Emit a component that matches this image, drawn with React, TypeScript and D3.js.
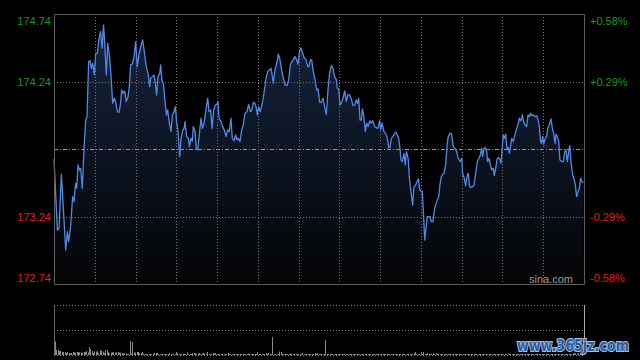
import React from "react";
import * as d3 from "d3";

const minutes = [
  0, 2.5, 3.7, 5.4, 6.6, 8.6, 9.8, 10.8, 12.3, 13.7, 14.7, 15.9, 16.7, 17.7, 18.6, 19.6, 20.8, 22.1, 23.3, 24.3,
  25.5, 26.5, 27.5, 28.5, 29.7, 30.7, 31.9, 33.1, 34.3, 35.3, 36.5, 37.5, 38.5, 39.5, 40.7, 41.9, 43.2, 44.4, 45.4, 46.6,
  47.8, 48.8, 49.8, 50.8, 52.0, 53.2, 54.5, 55.4, 56.4, 57.6, 58.9, 60.1, 61.3, 62.5, 63.8, 65.2, 66.5, 67.7, 69.4, 70.4,
  71.1, 72.4, 73.6, 74.6, 75.5, 76.5, 77.8, 78.5, 79.5, 80.5, 81.7, 82.7, 83.6, 84.9, 86.1, 87.1, 88.3, 89.3, 90.3, 91.2,
  92.5, 93.5, 94.7, 95.7, 96.4,
  97.6, 98.9, 99.6, 100.8, 101.8, 102.5, 103.8, 104.7, 105.7, 106.9, 108.2, 109.2, 110.4, 111.6, 113.1, 114.1, 115.3, 116.3, 117.5, 118.7,
  119.9, 120.7, 121.4, 122.9, 124.1, 125.3, 126.6, 127.8, 129.0, 130.2, 131.2, 132.5, 133.7, 134.7, 135.6, 136.9, 138.1, 139.3, 140.6, 142.0,
  143.2, 144.5, 145.5, 146.7, 147.9, 148.9, 149.6, 150.6, 151.8, 153.3, 154.5, 156.0, 157.2, 158.5, 159.7, 160.7, 161.4, 162.6, 163.9, 165.1,
  166.3, 167.5, 168.8, 170.0, 171.5, 172.7, 173.9, 174.9, 176.1, 177.3, 178.6, 179.5, 180.8, 181.8, 183.0, 184.2, 185.4, 186.7, 187.6, 188.6,
  189.6, 190.8, 192.1, 193.3, 194.3,
  195.5, 196.7, 198.0, 199.2, 200.4, 201.6, 202.8, 204.1, 205.3, 206.5, 207.8, 208.5, 209.5, 210.4, 211.4, 212.7, 213.9, 215.1, 216.3, 217.6,
  218.8, 220.0, 221.2, 222.5, 223.2, 224.2, 225.2, 226.2, 226.9, 227.9, 229.1, 230.1, 231.1, 232.3, 233.5, 234.7, 236.0, 237.2, 238.4, 239.6,
  240.4, 241.4, 242.8, 244.1, 245.3, 246.3, 247.2, 248.2, 249.4, 250.7, 251.7, 252.6, 253.6, 254.6, 255.3, 256.3, 257.5, 258.5, 259.3, 260.0,
  260.7, 261.5, 262.7, 263.9, 264.9, 265.9, 267.1, 268.1, 269.1, 270.3, 271.0, 271.8, 272.8, 273.7, 274.7, 275.7, 276.7, 277.7, 278.9, 279.9,
  280.8, 282.1, 283.1, 284.0, 285.0, 286.0, 287.0, 288.2, 289.2, 289.9, 291.1, 292.4,
  293.9, 295.1, 296.3, 297.5, 298.8, 300.0, 300.7, 301.9, 302.9, 304.2, 304.9, 305.6, 306.6, 308.1, 309.1, 310.3, 311.5, 312.7, 313.7, 314.7,
  315.4, 316.4, 317.6, 318.4, 319.1, 320.1, 321.1, 322.1, 323.3, 324.0, 325.0, 326.2, 327.2, 328.2, 328.9, 329.9, 330.6, 331.4, 332.4, 333.3,
  334.3, 335.1, 336.0, 336.8, 338.0, 339.2, 340.5, 341.7, 342.4, 343.6, 344.6, 345.4, 346.6, 347.8, 348.8, 349.8, 350.8, 351.7, 352.7, 353.9,
  355.2, 356.4, 357.1, 357.9, 358.6, 359.6, 360.3, 361.3, 362.5, 363.3, 364.5, 365.7, 366.7, 367.7, 368.7, 369.4, 370.4, 371.4, 372.3, 373.6,
  374.8, 375.8, 376.8, 377.7, 378.7, 379.5, 380.4, 381.7, 382.6, 383.6, 384.6, 385.6, 386.6, 387.5, 388.5, 389.5,
];

const prices = [
  173.666, 173.140, 173.153, 173.553, 173.350, 172.992, 173.128, 173.054, 173.177, 173.387, 173.350, 173.486, 173.449, 173.622, 173.585, 173.597, 173.449, 173.745, 173.955, 173.980,
  174.387, 174.395, 174.338, 174.375, 174.289, 174.449, 174.449, 174.560, 174.610, 174.486, 174.659, 174.486, 174.289, 174.523, 174.437, 174.289, 174.079, 174.116, 174.091, 174.017,
  174.012, 174.066, 174.177, 174.153, 174.170, 174.091, 174.128, 174.202, 174.363, 174.368, 174.424, 174.535, 174.350, 174.437, 174.498, 174.548, 174.461, 174.363, 174.289, 174.202,
  174.264, 174.276, 174.289, 174.227, 174.140, 174.276, 174.301, 174.363, 174.239, 174.227, 174.091, 173.992, 174.029, 173.931, 173.869, 173.992, 174.017, 174.054, 173.931, 173.881,
  173.684, 173.819, 173.881, 173.893, 173.943,
  173.832, 173.819, 173.758, 173.819, 173.800, 173.906, 173.869, 173.745, 173.733, 173.844, 173.968, 173.893, 173.931, 174.017, 174.116, 174.017, 174.029, 173.893, 174.029, 174.066,
  174.071, 174.091, 173.968, 173.943, 173.906, 173.881, 173.832, 173.881, 173.869, 173.968, 173.819, 173.800, 173.844, 173.807, 173.819, 173.795, 173.881, 173.918, 174.005, 174.017,
  174.071, 174.017, 174.029, 174.086, 174.079, 174.042, 173.992, 174.054, 174.017, 174.079, 174.153, 174.264, 174.313, 174.326, 174.338, 174.276, 174.227, 174.326, 174.375, 174.442,
  174.400, 174.326, 174.264, 174.214, 174.210, 174.252, 174.363, 174.387, 174.400, 174.424, 174.400, 174.368, 174.474, 174.486, 174.449, 174.412, 174.405, 174.350, 174.350, 174.400,
  174.400, 174.313, 174.252, 174.177, 174.185,
  174.086, 174.086, 174.116, 174.047, 173.997, 174.177, 174.301, 174.358, 174.338, 174.276, 174.252, 174.190, 174.185, 174.066, 174.079, 174.116, 174.170, 174.091, 174.145, 174.140,
  174.111, 174.061, 174.066, 174.103, 174.079, 174.116, 173.955, 173.955, 174.037, 173.992, 173.869, 173.931, 173.906, 173.948, 173.931, 173.948, 173.906, 173.898, 173.893, 173.948,
  173.881, 173.931, 173.869, 173.856, 173.819, 173.750, 173.750, 173.819, 173.832, 173.856, 173.864, 173.844, 173.819, 173.745, 173.659, 173.647, 173.708, 173.622, 173.721, 173.696,
  173.659, 173.523, 173.424, 173.326, 173.461, 173.469, 173.498, 173.518, 173.437, 173.424, 173.429, 173.276, 173.066, 173.153, 173.239, 173.239, 173.239, 173.202, 173.202, 173.289,
  173.326, 173.363, 173.387, 173.474, 173.535, 173.553, 173.560, 173.622, 173.758, 173.824, 173.852, 173.856,
  173.758, 173.745, 173.721, 173.671, 173.647, 173.671, 173.560, 173.523, 173.469, 173.548, 173.560, 173.474, 173.454, 173.461, 173.474, 173.560, 173.647, 173.671, 173.696, 173.745,
  173.684, 173.745, 173.750, 173.721, 173.647, 173.671, 173.622, 173.585, 173.597, 173.543, 173.597, 173.671, 173.676, 173.659, 173.634, 173.758, 173.844, 173.819, 173.849, 173.745,
  173.750, 173.708, 173.765, 173.819, 173.795, 173.844, 173.893, 173.931, 173.968, 173.948, 173.992, 173.948, 173.918, 173.906, 173.992, 173.980, 174.005, 173.987, 173.992, 173.980,
  173.987, 173.948, 173.906, 173.807, 173.782, 173.832, 173.775, 173.814, 173.832, 173.893, 173.923, 173.963, 173.893, 173.856, 173.782, 173.849, 173.832, 173.795, 173.659, 173.647,
  173.647, 173.721, 173.733, 173.647, 173.716, 173.765, 173.647, 173.548, 173.523, 173.474, 173.387, 173.424, 173.449, 173.523, 173.498, 173.493,
];

const prevClose = 173.74;
const leftTicks = [174.74, 174.24, 173.24, 172.74];
const rightTicks = ["+0.58%", "+0.29%", "-0.29%", "-0.58%"];

// per-minute volume (thousand shares), minute 0..389
const volumes = [
  27, 10, 10, 8, 8, 6, 6, 6, 4, 6,
  4, 4, 4, 6, 5, 5, 6, 6, 5, 5,
  5, 6, 6, 8, 5, 16, 12, 8, 4, 7,
  7, 7, 4, 9, 9, 7, 4, 10, 10, 6,
  3, 5, 5, 6, 4, 6, 6, 5, 5, 4,
  3, 3, 3, 2, 2, 28, 3, 26, 5, 5,
  6, 6, 4, 4, 6, 2, 2, 2, 2, 2,
  2, 2, 2, 4, 4, 4, 2, 2, 2, 2,
  2, 2, 2, 2, 4, 2, 2, 2, 2, 6,
  4, 2, 2, 2, 2, 2, 2, 5, 2, 2,
  2, 4, 4, 3, 2, 2, 4, 2, 3, 4,
  3, 2, 6, 2, 2, 2, 4, 3, 4, 2,
  2, 2, 2, 2, 2, 2, 2, 4, 2, 2,
  2, 2, 2, 2, 2, 2, 2, 2, 2, 2,
  2, 2, 3, 2, 2, 2, 2, 2, 2, 6,
  2, 2, 2, 2, 2, 4, 2, 4, 2, 2,
  36, 2, 2, 2, 2, 7, 6, 2, 2, 2,
  2, 2, 2, 3, 2, 2, 2, 2, 2, 2,
  2, 2, 4, 2, 2, 2, 2, 2, 2, 2,
  2, 4, 2, 4, 2, 2, 2, 2, 2, 30,
  2, 2, 2, 2, 2, 2, 2, 2, 2, 2,
  2, 2, 2, 2, 2, 2, 2, 2, 2, 2,
  2, 2, 2, 2, 2, 2, 2, 2, 2, 2,
  2, 2, 2, 2, 2, 2, 2, 2, 2, 2,
  2, 2, 2, 2, 2, 2, 2, 2, 2, 2,
  2, 2, 2, 2, 2, 2, 2, 2, 2, 2,
  2, 2, 2, 2, 4, 6, 2, 2, 2, 6,
  2, 6, 2, 2, 4, 2, 2, 2, 4, 2,
  4, 2, 2, 2, 2, 2, 2, 2, 2, 2,
  2, 2, 2, 2, 2, 2, 2, 2, 2, 2,
  2, 2, 2, 2, 2, 2, 2, 2, 2, 2,
  2, 2, 2, 2, 2, 2, 2, 2, 2, 2,
  2, 2, 2, 2, 2, 2, 2, 2, 2, 2,
  2, 2, 2, 3, 2, 2, 2, 2, 2, 2,
  2, 2, 2, 2, 2, 2, 2, 2, 2, 2,
  2, 2, 2, 2, 2, 3, 2, 2, 2, 2,
  2, 2, 2, 2, 2, 2, 2, 2, 2, 2,
  2, 2, 2, 2, 2, 2, 2, 2, 2, 2,
  2, 3, 4, 3, 2, 4, 5, 3, 4, 6,
];

export default function App() {
  const W = 640, H = 360;
  const L = 54, R = 584, T = 14, B = 284;
  const VT = 305, VB = 355;
  const x = d3.scaleLinear().domain([0, 390]).range([L, R]);
  const y = d3.scaleLinear().domain([172.74, 174.74]).range([B, T]);
  const yv = d3.scaleLinear().domain([0, 100]).range([VB, VT]);
  const data = minutes.map((m, i) => ({ m, p: prices[i] })).filter((d) => d.p !== undefined);
  const line = d3.line<any>().x((d) => x(d.m)).y((d) => y(d.p));
  const area = d3.area<any>().x((d) => x(d.m)).y0(B).y1((d) => y(d.p));
  const vGrid = d3.range(30, 390, 30);
  const font = "'Liberation Sans', Arial, sans-serif";
  const labelY = (v: number, i: number) =>
    i === 0 ? y(v) + 10.5 : i === leftTicks.length - 1 ? y(v) - 2 : y(v) + 4;
  const color = (v: number) => (v > prevClose ? "#1a9a1a" : "#e0201a");

  return (
    <div style={{ width: W, height: H, background: "#000" }}>
      <style>{`body{margin:0;background:#000}`}</style>
      <svg width={W} height={H} style={{ display: "block", background: "#000" }}>
        <defs>
          <linearGradient id="fillg" x1="0" y1={T} x2="0" y2={B} gradientUnits="userSpaceOnUse">
            <stop offset="0" stopColor="#17263f" />
            <stop offset="0.5" stopColor="#0c1422" />
            <stop offset="1" stopColor="#030405" />
          </linearGradient>
        </defs>
        <path d={area(data) || ""} fill="url(#fillg)" />
        {leftTicks
          .filter((v) => v !== 174.74 && v !== 172.74)
          .map((v) => (
            <line key={"h" + v} x1={L} x2={R} y1={Math.round(y(v)) + 0.5} y2={Math.round(y(v)) + 0.5}
              stroke="#777" strokeDasharray="1,2" />
          ))}
        <line x1={L} x2={R} y1={Math.round(y(prevClose)) + 0.5} y2={Math.round(y(prevClose)) + 0.5}
          stroke="#999" strokeDasharray="4,2,1,2" />
        {vGrid.map((m) => (
          <line key={"v" + m} x1={Math.round(x(m)) + 0.5} x2={Math.round(x(m)) + 0.5} y1={T} y2={B}
            stroke="#777" strokeDasharray="1,2" />
        ))}
        <path d={line(data) || ""} fill="none" stroke="#4f8ae6" strokeWidth={1.3} strokeLinejoin="round" />
        <path d={`M${L + 0.5},${B + 0.5}V${T + 0.5}H${R + 0.5}V${B + 0.5}H${L + 0.5}`} fill="none" stroke="#5e5e5e" />
        {leftTicks.map((v, i) => (
          <text key={"l" + v} x={51} y={labelY(v, i)} textAnchor="end" fontFamily={font} fontSize={11} fill={color(v)}>
            {v.toFixed(2)}
          </text>
        ))}
        {rightTicks.map((t, i) => (
          <text key={"r" + t} x={590} y={labelY(leftTicks[i], i)} fontFamily={font} fontSize={11} fill={color(leftTicks[i])}>
            {t}
          </text>
        ))}
        <text x={573} y={283} textAnchor="end" fontFamily={font} fontSize={11} fill="#9a9a9a">sina.com</text>
        <line x1={L} x2={R} y1={VT + 0.5} y2={VT + 0.5} stroke="#888" strokeDasharray="1,2" />
        <line x1={L} x2={R} y1={330.5} y2={330.5} stroke="#888" strokeDasharray="1,2" />
        <line x1={L} x2={R} y1={VB + 0.5} y2={VB + 0.5} stroke="#888" strokeDasharray="1,2" />
        <line x1={L + 0.5} x2={L + 0.5} y1={VT} y2={VB} stroke="#666" />
        <line x1={R + 0.5} x2={R + 0.5} y1={VT} y2={VB} stroke="#aaa" />
        {volumes.map((v, i) => (
          <rect key={"b" + i} x={Math.round(x(i)) + 1} y={yv(v)} width={1} height={VB - yv(v)} fill="#8a8a8a" />
        ))}
        <text x={573} y={351} textAnchor="middle" fontFamily="'DejaVu Sans', sans-serif" fontWeight="bold" fontSize={15}
          fill="#2b5ca8" stroke="#a9c4e0" strokeWidth={2} paintOrder="stroke" textLength={112} lengthAdjust="spacingAndGlyphs">
          www.365jz.com
        </text>
      </svg>
    </div>
  );
}
